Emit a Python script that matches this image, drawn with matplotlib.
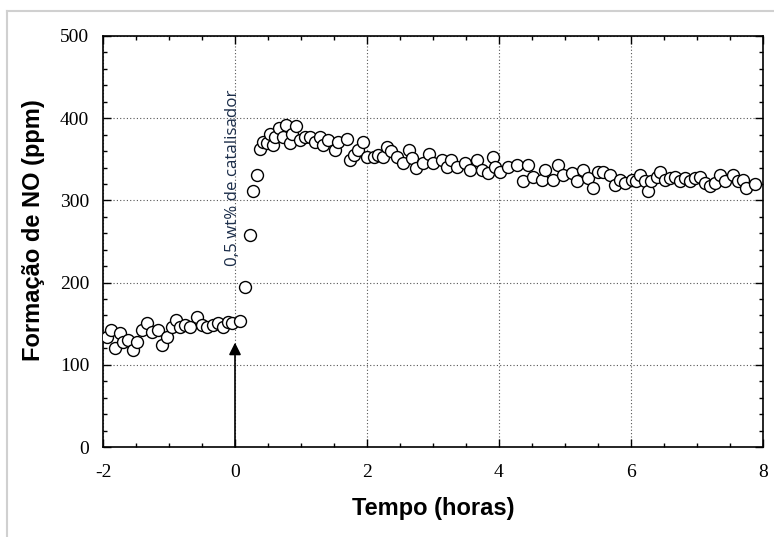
import matplotlib
matplotlib.use("Agg")
import matplotlib.pyplot as plt
from matplotlib.ticker import MultipleLocator
from matplotlib.lines import Line2D

plt.rcParams['axes.unicode_minus'] = False

# NO formation before catalyst addition (t < 0)
t_before = [-1.94, -1.88, -1.82, -1.74, -1.69, -1.62, -1.55, -1.49, -1.41, -1.34,
            -1.26, -1.16, -1.10, -1.03, -0.96, -0.89, -0.83, -0.76, -0.68, -0.58,
            -0.50, -0.43, -0.33, -0.25, -0.18, -0.10, -0.04, 0.08]
no_before = [134, 142, 120, 139, 128, 130, 118, 128, 142, 151,
             140, 142, 124, 134, 146, 154, 146, 148, 146, 158,
             148, 146, 148, 151, 146, 152, 151, 153]

# after catalyst addition
t_after = [0.15, 0.23, 0.28, 0.33, 0.38, 0.43, 0.48, 0.53, 0.58, 0.61,
           0.66, 0.73, 0.78, 0.83, 0.86, 0.93, 0.98, 1.06, 1.14, 1.21,
           1.29, 1.34, 1.41, 1.52, 1.56, 1.69, 1.74, 1.80, 1.87, 1.94,
           2.00, 2.10, 2.17, 2.25, 2.30, 2.37, 2.45, 2.55, 2.63, 2.68,
           2.75, 2.85, 2.94, 3.00, 3.13, 3.21, 3.28, 3.36, 3.48, 3.56,
           3.66, 3.74, 3.84, 3.91, 3.94, 4.02, 4.14, 4.27, 4.37, 4.44,
           4.52, 4.65, 4.70, 4.82, 4.90, 4.97, 5.10, 5.18, 5.28, 5.35,
           5.42, 5.50, 5.58, 5.68, 5.76, 5.83, 5.91, 6.01, 6.08, 6.14,
           6.21, 6.26, 6.31, 6.39, 6.44, 6.52, 6.59, 6.67, 6.74, 6.82,
           6.89, 6.97, 7.05, 7.12, 7.20, 7.27, 7.35, 7.42, 7.55, 7.62,
           7.70, 7.75, 7.88]
no_after = [195, 258, 311, 331, 362, 371, 370, 381, 367, 377,
            388, 377, 392, 370, 381, 390, 373, 377, 377, 371,
            377, 367, 373, 361, 371, 375, 349, 355, 361, 371,
            353, 353, 355, 353, 365, 360, 353, 345, 361, 351,
            339, 345, 357, 345, 349, 341, 349, 341, 345, 337,
            349, 337, 333, 353, 341, 335, 341, 343, 323, 343,
            329, 325, 337, 325, 343, 331, 333, 323, 337, 327,
            315, 335, 335, 331, 319, 325, 321, 325, 323, 331,
            323, 311, 323, 329, 335, 325, 327, 329, 323, 327,
            323, 327, 329, 321, 317, 321, 331, 323, 331, 323,
            325, 315, 320]

xticks = [-2, 0, 2, 4, 6, 8]
yticks = [0, 100, 200, 300, 400, 500]

fig = plt.figure(figsize=(7.74, 5.37), dpi=100)
ax = fig.add_axes([103 / 774, 1 - 447 / 537, 660 / 774, 411 / 537])

ax.plot(t_before + t_after, no_before + no_after, 'o', ms=8.6, mfc='white',
        mec='black', mew=1.0, zorder=3)

ax.set_xlim(-2, 8)
ax.set_ylim(0, 500)
ax.set_xticks(xticks)
ax.set_yticks(yticks)
ax.xaxis.set_minor_locator(MultipleLocator(0.5))
ax.yaxis.set_minor_locator(MultipleLocator(20))
ax.tick_params(which='both', direction='in', top=True, right=True)
ax.tick_params(which='major', length=6, width=1)
ax.tick_params(which='minor', length=3, width=1)
for lab in ax.get_xticklabels() + ax.get_yticklabels():
    lab.set_fontfamily('Liberation Serif')
    lab.set_fontsize(14)
ax.tick_params(axis='x', pad=12)
ax.tick_params(axis='y', pad=10)
for s in ax.spines.values():
    s.set_linewidth(1.2)

ax.grid(True, which='major', color='#555555', linestyle=(0, (1, 2)), linewidth=0.8)

ax.set_xlabel('Tempo (horas)', fontfamily='Liberation Sans', fontweight='bold',
              fontsize=17)
ax.set_ylabel('Formação de NO (ppm)', fontfamily='Liberation Sans', fontweight='bold',
              fontsize=17)
ax.xaxis.set_label_coords(0.5, -0.122)
ax.yaxis.set_label_coords(-0.088, 0.528)

ax.annotate('', xy=(0, 127), xytext=(0, 0),
            arrowprops=dict(arrowstyle='-|>', color='black', lw=1.2,
                            mutation_scale=18, shrinkA=0, shrinkB=0))
ax.text(-0.03, 220, '0,5 wt% de catalisador', rotation=90, ha='center', va='bottom',
        fontfamily='Open Sans', fontsize=12.2, color='#1c2e4a')

# light frame around the picture
fig.add_artist(Line2D([7 / 774, 7 / 774], [0, 1 - 11 / 537], color='#d0d0d0', lw=1.5))
fig.add_artist(Line2D([7 / 774, 1], [1 - 11 / 537, 1 - 11 / 537], color='#d0d0d0', lw=1.5))

fig.savefig('out.png', dpi=100)
